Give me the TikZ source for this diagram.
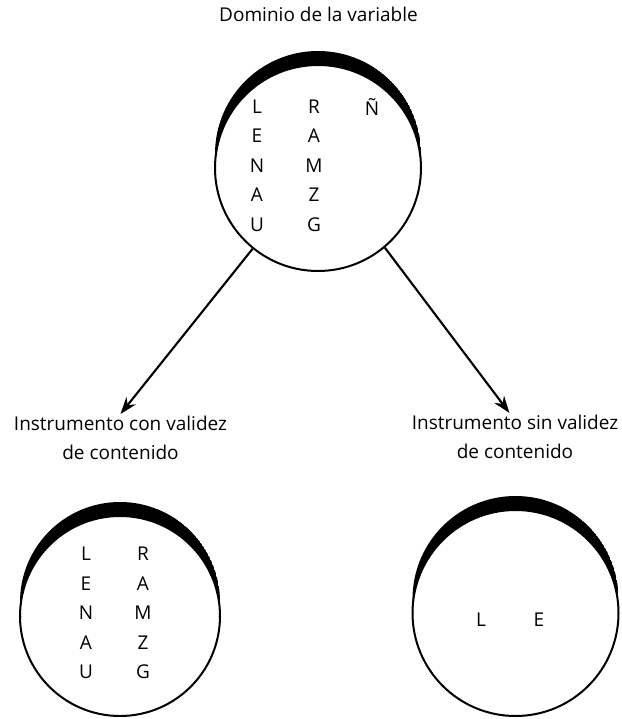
\documentclass[tikz,border=0pt]{standalone}
\usepackage{fontspec}
\setmainfont{Open Sans}
\usetikzlibrary{arrows.meta,positioning,calc}

\begin{document}
\begin{tikzpicture}[x=1pt, y=-1pt,
  set/.style={circle, draw, line width=2pt, inner sep=0pt},
  letra/.style={font=\fontsize{19}{22}\selectfont},
  lbl/.style={font=\fontsize{19}{29}\selectfont, align=center, inner sep=2pt},
  arr/.style={line width=2.1pt, -{Stealth[length=17pt, width=12pt]}}
]
  \useasboundingbox (0,0) rectangle (621,719);
  % universe of the variable
  \node[lbl] (titulo) at (318.5,14) {Dominio de la variable};
  \node[set, minimum size=206pt] (dom) at (318,168) {};
  \foreach \a/\b [count=\i] in {L/R, E/A, N/M, A/Z, U/G}{
     \node[letra] (dom-a\i) at (257,77+\i*29.5) {\a};
     \node[letra] (dom-b\i) at (314,77+\i*29.5) {\b};}
  \node[letra] (dom-c1) at (372,106.5) {Ñ};
  % labels
  \node[lbl] (con) at (120.5,438) {Instrumento con validez\\de contenido};
  \node[lbl] (sin) at (515,437) {Instrumento sin validez\\de contenido};
  % bottom sets
  \node[set, minimum size=200pt] (setcon) at (120,616) {};
  \foreach \a/\b [count=\i] in {L/R, E/A, N/M, A/Z, U/G}{
     \node[letra] (con-a\i) at (86,524.5+\i*29.5) {\a};
     \node[letra] (con-b\i) at (143,524.5+\i*29.5) {\b};}
  \node[set, minimum size=206pt] (setsin) at (515.5,613) {};
  \node[letra] (sin-a1) at (481,620) {L};
  \node[letra] (sin-b1) at (539,620) {E};
  % crescents on top of the sets
  \foreach \c/\r in {dom/103, setcon/100, setsin/103}{
    \begin{scope}
      \clip ($(\c)+(-\r-5,0)$) rectangle ($(\c)+(\r+5,-\r-30)$);
      \clip ($(\c)+(0,-14)$) circle (\r);
      \fill[even odd rule] ($(\c)+(0,-14)$) circle (\r) (\c) circle (\r);
    \end{scope}}
  % arrows
  \draw[arr] (dom.231) -- (con.north);
  \draw[arr] (dom.310) -- (sin.103);
\end{tikzpicture}
\end{document}
